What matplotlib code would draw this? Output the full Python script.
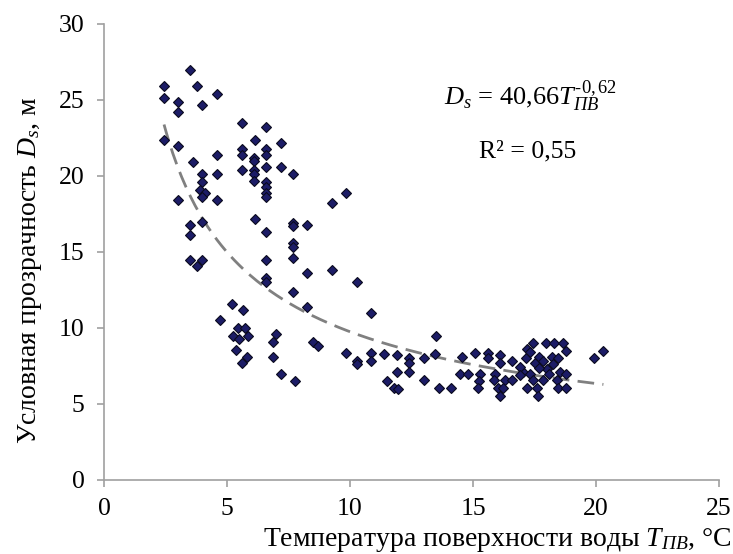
import numpy as np
import matplotlib
matplotlib.use('Agg')
import matplotlib.pyplot as plt

plt.rcParams['font.family'] = ['Liberation Serif', 'DejaVu Serif']
plt.rcParams['mathtext.fontset'] = 'custom'
plt.rcParams['mathtext.rm'] = 'Liberation Serif'
plt.rcParams['mathtext.it'] = 'Liberation Serif:italic'

# surface water temperature, deg C
temp = [3.5, 2.44, 3.78, 4.6, 2.44, 3.0, 4.0, 3.0, 5.6, 6.6,
        2.44, 3.0, 6.15, 7.2, 5.6, 5.6, 6.6, 6.6, 6.1, 6.1,
        4.6, 3.6, 5.6, 6.1, 6.6, 7.2, 6.1, 6.1, 4.0, 4.6,
        6.6, 6.6, 6.6, 6.6, 4.0, 3.9, 4.1, 4.0, 4.6, 3.0,
        6.15, 6.6, 3.5, 3.5, 4.0, 3.5, 4.0, 3.8, 6.6, 6.6,
        6.6, 5.2, 5.65, 4.7, 5.45, 5.73, 5.24, 5.85, 5.5, 7.0,
        6.87, 5.37, 5.8, 5.6, 6.87, 7.2,
        7.7, 9.85, 9.27, 7.7, 7.7, 8.25, 7.7, 7.7, 7.7, 8.25,
        9.27, 10.3, 7.7, 8.25, 10.85, 8.5, 8.7, 9.85, 10.3, 10.85,
        10.85, 11.4, 11.9, 12.4, 12.4, 12.4, 11.9, 11.5, 11.8, 11.95,
        13.0, 13.0, 13.5, 13.45, 7.76, 13.6, 10.3,
        14.1, 14.55, 14.47, 14.8, 15.1, 15.3, 15.25, 15.2, 15.6, 15.6,
        16.1, 16.1, 15.9, 15.85, 16.0, 16.1, 16.3, 16.2, 16.6, 16.6,
        17.15, 17.45, 17.97, 18.3, 18.65, 17.2, 18.8,
        17.05, 17.3, 17.5, 17.7, 17.86, 18.0, 18.2, 18.26, 18.47, 18.54,
        18.8, 18.4, 18.47, 18.8, 17.2, 17.6, 17.65, 16.9, 16.9, 17.45,
        17.86, 18.1, 17.3, 17.7, 19.9, 20.3]

# conditional transparency D_s, m
depth = [27.0, 25.9, 25.9, 25.4, 25.1, 24.9, 24.7, 24.2, 23.5, 23.2,
         22.4, 22.0, 22.4, 22.2, 21.8, 21.4, 21.8, 21.4, 21.2, 21.0,
         21.4, 20.9, 20.4, 20.4, 20.6, 20.6, 20.1, 19.7, 20.1, 20.1,
         19.6, 19.3, 18.9, 18.6, 19.6, 19.1, 18.9, 18.6, 18.4, 18.4,
         17.2, 16.3, 16.8, 16.1, 17.0, 14.5, 14.5, 14.1, 14.5, 13.3,
         13.0, 11.6, 11.2, 10.5, 10.0, 10.0, 9.5, 9.5, 9.3, 9.6,
         9.1, 8.55, 8.1, 7.7, 8.1, 7.0,
         20.1, 18.9, 18.2, 16.9, 16.7, 16.8, 15.6, 15.3, 14.6, 13.6,
         13.8, 13.0, 12.4, 11.4, 11.0, 9.1, 8.8, 8.36, 7.8, 8.36,
         7.8, 8.3, 8.2, 8.0, 7.7, 7.1, 7.1, 6.5, 6.05, 6.0,
         6.6, 8.0, 9.5, 8.3, 6.5, 6.05, 7.6,
         6.05, 8.1, 7.0, 7.0, 8.35, 7.0, 6.5, 6.05, 8.35, 8.0,
         8.2, 7.7, 7.0, 6.6, 6.05, 5.5, 6.6, 6.05, 7.8, 6.6,
         8.0, 9.0, 9.0, 9.0, 9.0, 8.6, 8.5,
         7.13, 7.0, 7.7, 8.1, 7.8, 7.3, 8.1, 7.6, 8.0, 7.1,
         7.0, 6.6, 6.03, 6.03, 6.03, 6.03, 5.5, 7.45, 6.9, 6.6,
         6.6, 7.0, 8.4, 7.35, 8.0, 8.5]

fit_a = 40.66
fit_b = -0.62

px = 1 / 100
fig = plt.figure(figsize=(733 * px, 554 * px), dpi=100)
ax = fig.add_axes([104 / 733, 1 - 480 / 554, (719 - 104) / 733, (480 - 24) / 554])

tt = np.linspace(min(temp), max(temp), 200)
ax.plot(tt, fit_a * tt ** fit_b, color='#808080', lw=2, ls=(0, (6, 3)), zorder=3)
ax.plot(temp, depth, ls='none', marker='D', ms=5.5, mfc='#1c1c66',
        mec='#0a0a1e', mew=0.8, zorder=4)

ax.set_xlim(0, 25)
ax.set_ylim(0, 30)
ax.set_xticks(range(0, 26, 5))
ax.set_yticks(range(0, 31, 5))
for s in ['top', 'right']:
    ax.spines[s].set_visible(False)
for s in ['left', 'bottom']:
    ax.spines[s].set_color('#a0a0a0')
    ax.spines[s].set_linewidth(1.2)
ax.tick_params(colors='#a0a0a0', labelcolor='black', length=5, width=1.2,
               labelsize=18.5)
ax.tick_params(axis='x', pad=8)
ax.tick_params(axis='y', pad=9)

# annotation positions in pixels from the top-left corner
ax.text(530, 554 - 97, r'$D_s$ = 40,66$T_{\mathit{ПВ}}^{\mathrm{‐0,62}}$',
        transform=None, fontsize=19, ha='center', va='center')
ax.text(528, 554 - 151, 'R² = 0,55', transform=None, fontsize=18.5,
        ha='center', va='center')

fig.text(0.998, 1 - 540 / 554, r'Температура поверхности воды $T_{\mathit{ПВ}}$, °C',
         fontsize=20, ha='right', va='center')
fig.text(30 / 733, 1 - 270 / 554, r'Условная прозрачность $D_s$, м', fontsize=20,
         rotation=90, ha='center', va='center')

fig.savefig('out.png', dpi=100)
